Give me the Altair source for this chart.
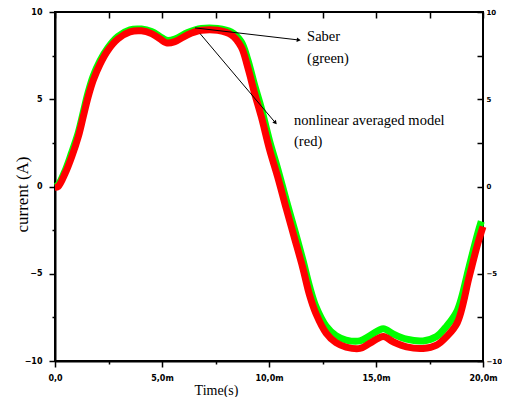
import altair as alt
import pandas as pd

# ---- data (time in ms, current in A) ----
red_time_ms = [0.0, 0.15, 0.47, 0.78, 1.09, 1.32, 1.55, 1.79, 2.1, 2.47, 2.94, 3.5, 4.04, 4.51,
               4.9, 5.21, 5.6, 6.2, 6.84, 7.6, 8.24, 8.7, 9.0, 9.33, 9.64, 10.03, 10.4, 10.8,
               11.19, 11.58, 11.89, 12.2, 12.67, 13.13, 13.6, 14.25, 14.72, 15.34, 15.8, 16.43,
               17.2, 17.83, 18.3, 18.8, 19.35, 19.75, 20.0]
red_current = [-0.05, 0.0, 0.74, 1.7, 2.86, 4.0, 5.14, 6.1, 7.0, 7.8, 8.46, 8.86, 8.92, 8.76,
               8.47, 8.23, 8.3, 8.7, 8.95, 8.95, 8.69, 8.0, 6.86, 5.33, 4.0, 2.1, 0.57, -1.24,
               -2.95, -4.67, -6.2, -7.3, -8.4, -8.95, -9.2, -9.28, -8.98, -8.6, -8.9, -9.19,
               -9.28, -9.09, -8.6, -7.8, -5.2, -3.3, -2.3]

green_time_ms = [0.0, 0.15, 0.47, 0.78, 1.09, 1.32, 1.55, 1.79, 2.1, 2.47, 2.94, 3.5, 4.04, 4.51,
                 4.9, 5.21, 5.6, 6.2, 6.84, 7.6, 8.24, 8.7, 9.0, 9.33, 9.64, 10.03, 10.4, 10.8,
                 11.19, 11.58, 11.89, 12.2, 12.67, 13.13, 13.6, 14.25, 14.72, 15.34, 15.8, 16.43,
                 17.2, 17.83, 18.3, 18.8, 19.35, 19.75, 19.92]
green_current = [0.0, 0.1, 0.9, 1.95, 3.1, 4.25, 5.4, 6.35, 7.2, 7.95, 8.6, 8.98, 9.02, 8.88,
                 8.6, 8.38, 8.45, 8.82, 9.05, 9.05, 8.85, 8.3, 7.3, 5.8, 4.5, 2.6, 1.05, -0.75,
                 -2.45, -4.2, -5.7, -6.9, -8.0, -8.55, -8.8, -8.85, -8.55, -8.15, -8.45, -8.75,
                 -8.85, -8.6, -8.0, -7.1, -4.6, -2.7, -2.0]

x_ticks = [0, 2.5, 5, 7.5, 10, 12.5, 15, 17.5, 20]
y_ticks = [-10, -7.5, -5, -2.5, 0, 2.5, 5, 7.5, 10]

# annotation arrows (start -> end, data coordinates)
arrow_t = [6.54, 6.78]
arrow_v = [9.09, 8.76]
arrow_t2 = [11.36, 10.28]
arrow_v2 = [8.4, 3.68]

label_texts = ["Saber", "(green)", "nonlinear averaged model", "(red)"]
label_t = [11.78, 11.78, 11.17, 11.17]
label_v = [8.58, 7.32, 3.73, 2.54]

red_df = pd.DataFrame({"t": red_time_ms, "i": red_current})
green_df = pd.DataFrame({"t": green_time_ms, "i": green_current})
arrow_df = pd.DataFrame({"t": arrow_t, "v": arrow_v, "t2": arrow_t2, "v2": arrow_v2})
text_df = pd.DataFrame({"t": label_t, "v": label_v, "txt": label_texts})

x_scale = alt.Scale(domain=[0, 20], nice=False, zero=False)
y_scale = alt.Scale(domain=[-10, 10], nice=False, zero=False)

major_minor = {"condition": {"test": "datum.value % 5 == 0", "value": 6}, "value": 3}

x_axis = alt.Axis(
    values=x_ticks,
    labelExpr="datum.value == 0 ? '0,0' : (datum.value % 5 == 0 ? datum.value + ',0m' : '')",
    title="Time(s)", titleFont="Liberation Serif", titleFontSize=14, titleFontWeight="normal",
    titleColor="black", titleX=161, titleY=29, titleBaseline="middle", titleAlign="center",
    labelFont="DejaVu Sans", labelFontSize=8, labelFontWeight="bold", labelColor="black",
    labelPadding=7, labelFlush=False, labelOverlap=False, labelBaseline="top",
    tickSize=major_minor, tickColor="black", tickWidth=1.5,
    domainColor="black", domainWidth=2, grid=False,
)
y_axis = alt.Axis(
    values=y_ticks,
    labelExpr="datum.value % 5 == 0 ? format(datum.value, 'd') : ''",
    title="current (A)", titleFont="Liberation Serif", titleFontSize=17, titleFontWeight="normal",
    titleColor="black", titleX=-33, titleY=182, titleAngle=270, titleBaseline="middle",
    titleAlign="center",
    labelFont="DejaVu Sans", labelFontSize=8, labelFontWeight="bold", labelColor="black",
    labelPadding=7, labelFlush=False, labelOverlap=False,
    tickSize=major_minor, tickColor="black", tickWidth=1.5,
    domainColor="black", domainWidth=2, grid=False,
)

green = alt.Chart(green_df).mark_line(
    color="#00ff00", strokeWidth=7, interpolate="catmull-rom", strokeCap="butt"
).encode(
    x=alt.X("t:Q", scale=x_scale, axis=x_axis),
    y=alt.Y("i:Q", scale=y_scale, axis=y_axis),
)
red = alt.Chart(red_df).mark_line(
    color="#ff0000", strokeWidth=7, interpolate="catmull-rom", strokeCap="butt"
).encode(
    x=alt.X("t:Q", scale=x_scale, axis=None),
    y=alt.Y("i:Q", scale=y_scale, axis=None),
)
arrows = alt.Chart(arrow_df).mark_rule(color="black", strokeWidth=1).encode(
    x=alt.X("t:Q", scale=x_scale, axis=None),
    y=alt.Y("v:Q", scale=y_scale, axis=None),
    x2="t2:Q", y2="v2:Q",
)
head1 = alt.Chart(arrow_df.iloc[[0]]).mark_point(
    shape="triangle", filled=True, size=22, color="black", opacity=1
).encode(
    x=alt.X("t2:Q", scale=x_scale, axis=None),
    y=alt.Y("v2:Q", scale=y_scale, axis=None),
    angle=alt.value(96.6),
)
head2 = alt.Chart(arrow_df.iloc[[1]]).mark_point(
    shape="triangle", filled=True, size=22, color="black", opacity=1
).encode(
    x=alt.X("t2:Q", scale=x_scale, axis=None),
    y=alt.Y("v2:Q", scale=y_scale, axis=None),
    angle=alt.value(140),
)
texts = alt.Chart(text_df).mark_text(
    align="left", baseline="middle", font="Liberation Serif", fontSize=14.5, color="black"
).encode(
    x=alt.X("t:Q", scale=x_scale, axis=None),
    y=alt.Y("v:Q", scale=y_scale, axis=None),
    text="txt:N",
)

mirror = alt.Chart(red_df).mark_line(opacity=0).encode(
    x=alt.X("t:Q", scale=x_scale, axis=alt.Axis(
        orient="top", values=x_ticks, labels=False, title=None, domain=False,
        tickSize=6, offset=-6, tickColor="black", tickWidth=1.5, grid=False)),
    y=alt.Y("i:Q", scale=y_scale, axis=alt.Axis(
        orient="right", values=y_ticks,
        labelExpr="datum.value % 5 == 0 ? format(datum.value, 'd') : ''",
        labelFont="DejaVu Sans", labelFontSize=7, labelFontWeight="bold", labelColor="black",
        labelPadding=3, labelFlush=False, labelOverlap=False,
        title=None, domain=False, tickSize=6, offset=-6, tickColor="black", tickWidth=1.5,
        grid=False)),
)

chart = alt.layer(green, red, arrows, head1, head2, texts, mirror).resolve_scale(
    x="independent", y="independent"
).properties(
    width=428, height=349,
    autosize=alt.AutoSizeParams(type="none"),
    padding={"left": 47, "top": 4, "right": 19, "bottom": 36},
    background="white",
).configure_view(stroke="black", strokeWidth=2)

chart.save("out.html", embed_options={"renderer": "svg", "actions": False})
